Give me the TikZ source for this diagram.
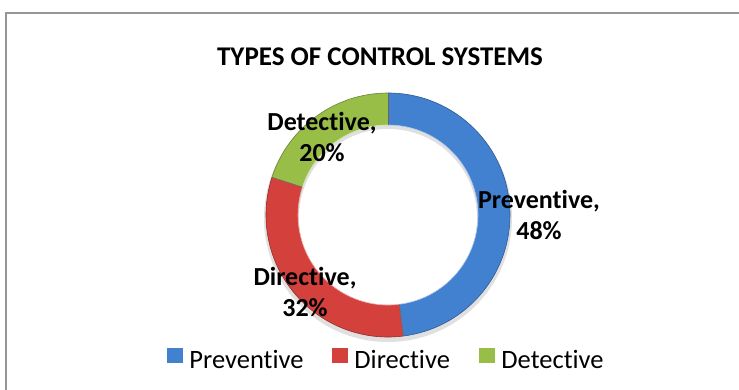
\documentclass[tikz,border=0pt]{standalone}
\usepackage{fontspec}
\setmainfont{Carlito}[Ligatures = NoCommon]
\setsansfont{Carlito}[Ligatures = NoCommon]
\usetikzlibrary{positioning}

\definecolor{prevblue}{RGB}{66,128,208}
\definecolor{dirred}{RGB}{212,64,60}
\definecolor{detgreen}{RGB}{152,190,72}
\definecolor{framegray}{RGB}{150,150,150}

\begin{document}
\begin{tikzpicture}[x = 1pt, y = 1pt, font=\sffamily]
	\tikzstyle{frameStyle} = [draw = framegray, line width = 1.6pt]
	\tikzstyle{titleStyle} = [font = \sffamily\fontsize{27}{32}\selectfont\bfseries, inner sep = 0pt]
	\tikzstyle{labelStyle} = [font = \sffamily\fontsize{26}{31}\selectfont\bfseries, align = center, inner sep = 0pt]
	\tikzstyle{keyStyle} = [shape = rectangle, minimum width = 16pt, minimum height = 15pt, inner sep = 0pt]
	\tikzstyle{keyText} = [font = \sffamily\fontsize{26.5}{30}\selectfont, anchor = base west, inner sep = 0pt]
	\tikzstyle{sliceEdge} = [line width = 0.6pt]
	\clip (0,0) rectangle (739,390);
	\fill[white] (0,0) rectangle (739,390);
	\draw[frameStyle] (6,-20) rectangle (760,377);
	\node[titleStyle] (title) at (380,333) {TYPES OF CONTROL SYSTEMS};
	\begin{scope}[shift = {(388,175)}]
		\fill[black, opacity = 0.12] (0,-3) circle[radius = 124pt];
		\fill[white] (0,-3) circle[radius = 89pt];
		\fill[prevblue] (90:122) arc[start angle = 90, end angle = -82.8, radius = 122pt] -- (-82.8:90) arc[start angle = -82.8, end angle = 90, radius = 90pt] -- cycle;
		\fill[dirred] (-82.8:122) arc[start angle = -82.8, end angle = -198, radius = 122pt] -- (162:90) arc[start angle = 162, end angle = 277.2, radius = 90pt] -- cycle;
		\fill[detgreen] (162:122) arc[start angle = 162, end angle = 90, radius = 122pt] -- (90:90) arc[start angle = 90, end angle = 162, radius = 90pt] -- cycle;
		\draw[sliceEdge, prevblue!70!black] (90:122) arc[start angle = 90, end angle = -82.8, radius = 122pt];
		\draw[sliceEdge, dirred!70!black] (-82.8:122) arc[start angle = -82.8, end angle = -198, radius = 122pt];
		\draw[sliceEdge, detgreen!70!black] (162:122) arc[start angle = 162, end angle = 90, radius = 122pt];
		\draw[sliceEdge, white!60!prevblue] (90:90) arc[start angle = 90, end angle = -82.8, radius = 90pt];
		\draw[sliceEdge, white!60!dirred] (-82.8:90) arc[start angle = -82.8, end angle = -198, radius = 90pt];
		\draw[sliceEdge, white!60!detgreen] (162:90) arc[start angle = 162, end angle = 90, radius = 90pt];
		\draw[sliceEdge, black!60] (90:90) -- (90:122);
		\draw[sliceEdge, black!60] (-82.8:90) -- (-82.8:122);
		\draw[sliceEdge, black!60] (162:90) -- (162:122);
	\end{scope}
	\node[labelStyle] (lblPrev) at (539,175) {Preventive,\\48\%};
	\node[labelStyle] (lblDir) at (305,98) {Directive,\\32\%};
	\node[labelStyle] (lblDet) at (322,253) {Detective,\\20\%};
	\node[keyStyle, fill = prevblue] (keyPrev) at (175,34) {};
	\node[keyText, right = 6pt of keyPrev.south east, anchor = base west, yshift = -5pt] (txtPrev) {Preventive};
	\node[keyStyle, fill = dirred] (keyDir) at (340,34) {};
	\node[keyText, right = 6pt of keyDir.south east, anchor = base west, yshift = -5pt] (txtDir) {Directive};
	\node[keyStyle, fill = detgreen] (keyDet) at (487,34) {};
	\node[keyText, right = 6pt of keyDet.south east, anchor = base west, yshift = -5pt] (txtDet) {Detective};
\end{tikzpicture}
\end{document}
